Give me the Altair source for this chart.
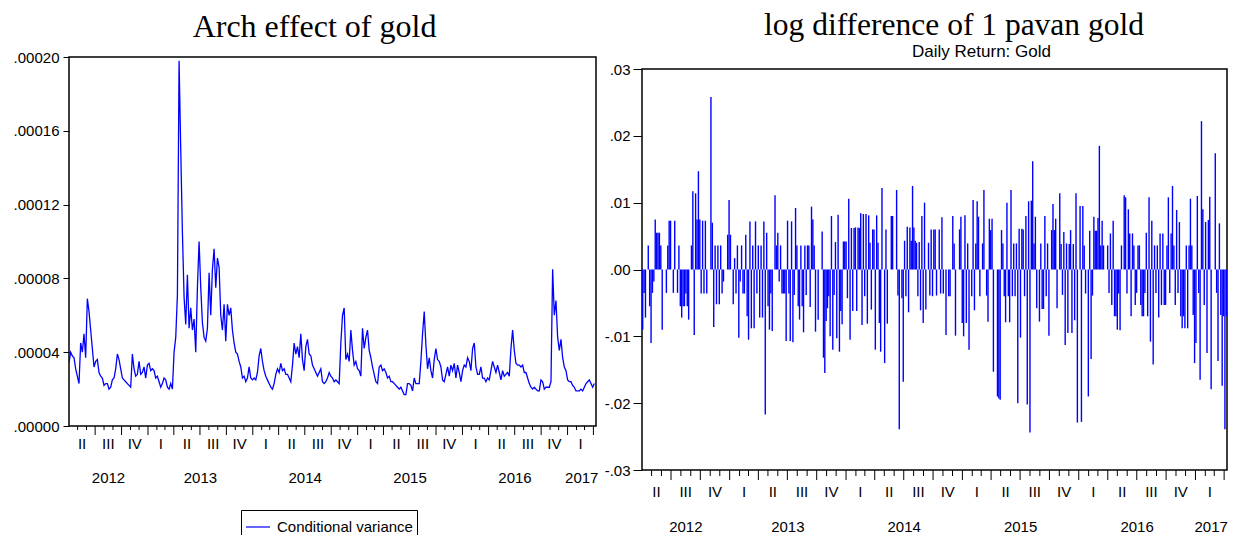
import altair as alt
import pandas as pd

# ---------------- data ----------------
START = "2012-04-01"
END = "2017-04-10"

# Conditional variance (units of 1e-5), evenly spaced through the sample
cond_var_part1 = [
    3.4, 4.0, 3.8, 3.7, 3.1, 2.7, 2.3, 4.5, 4.0, 5.0,
    3.7, 6.9, 6.2, 5.2, 4.2, 3.2, 3.5, 3.6, 2.9, 2.7,
    2.6, 2.2, 2.3, 2.3, 2.0, 2.1, 2.5, 2.6, 3.1, 3.9,
    3.6, 3.1, 2.6, 2.5, 2.4, 2.3, 2.2, 2.1, 3.9, 3.1,
    2.7, 2.8, 3.5, 2.8, 2.9, 3.2, 2.6, 3.3, 3.4, 3.0,
    3.1, 3.0, 2.6, 2.7, 2.4, 2.1, 2.3, 2.6, 2.5, 2.1,
    2.0, 2.3, 2.0, 4.0, 4.8, 7.1, 19.8, 15.0, 10.5, 7.0,
    5.5, 8.2, 5.3, 6.4, 5.2, 5.8, 4.0, 7.5, 10.0, 7.5,
    5.6, 4.8, 4.6, 5.3, 8.3, 6.0, 8.5, 9.6, 7.5, 9.1,
    8.6, 6.0, 5.2, 6.6, 4.6, 6.6, 6.0, 6.4, 5.2, 4.5,
    4.0, 3.9, 3.5, 3.2, 2.6, 2.7, 2.4, 2.6, 3.2, 2.6,
    2.5, 2.6, 2.5, 2.9, 3.8, 4.2, 3.5, 3.0, 2.7, 2.5,
    2.3, 2.1, 2.0, 2.3, 2.8, 3.1, 2.9, 3.4, 3.0, 3.1,
    2.8, 2.8, 2.6, 2.4, 3.3, 4.5, 3.9, 4.3, 3.7, 5.0,
    3.6, 3.0, 4.3, 4.7, 3.9, 3.8, 3.3, 3.1, 2.9, 2.7,
    2.9, 3.1,
]
cond_var_part2 = [
    2.4, 2.3, 2.4, 2.6, 2.9, 2.7, 2.6, 2.4, 2.5, 2.4,
    2.3, 4.5, 6.0, 6.4, 3.6, 3.9, 3.5, 5.2, 4.1, 3.3,
    3.5, 3.1, 3.0, 2.7, 5.3, 4.2, 4.8, 5.2, 4.1, 3.7,
    3.2, 2.8, 2.4, 2.3, 3.2, 3.3, 3.0, 3.1, 2.9, 2.6,
    2.7, 2.4, 2.4, 2.3, 2.2, 2.1, 2.0, 2.1, 1.9, 1.7,
    1.7, 2.3, 2.3, 2.2, 1.9, 2.6, 2.3, 2.3, 2.3, 3.5,
    5.0, 6.2, 4.4, 3.1, 3.7, 3.0, 2.6, 3.6, 4.2, 3.6,
    3.5, 3.2, 2.5, 2.4, 2.8, 3.2, 2.7, 3.3, 3.0, 3.4,
    2.6, 3.3, 2.9, 2.4, 3.0, 3.3, 3.2, 3.7, 3.5, 3.0,
    4.2, 4.5, 3.2, 2.8, 2.8, 3.2, 2.6, 2.6, 2.4, 2.6,
    2.5, 3.0, 3.5, 3.2, 2.9, 3.3, 2.9, 2.5, 3.0, 2.7,
    2.8, 2.9, 2.7, 4.2, 5.2, 4.1, 3.4, 3.3, 3.3, 3.2,
    3.3, 2.9, 2.9, 2.6, 2.3, 2.1, 2.0, 2.1, 2.0, 1.9,
    1.9, 2.5, 2.4, 2.0, 2.1, 2.1, 2.1, 2.4, 8.5, 6.0,
    6.8, 4.8, 4.1, 4.7, 3.7, 3.2, 3.0, 2.5, 2.4, 2.4,
    2.2, 2.1, 1.9, 1.9, 1.9, 2.0, 1.9, 2.1, 2.3, 2.4,
    2.5, 2.3, 2.1, 2.3,
]

# Daily return (units of 0.001), four consecutive stretches of the sample
ret_seg1 = [
    -9, -3.5, -7.2, 0, 3.6, -5.5, -11, -3.5, -1.8, 7.5, 5.5, 5.5, 5.5, 3.6, -9,
    0, 0, -3.5, 3.6, 7.3, 7.3, 0, -3.5, 7.3, 0, -3.5, 3.6, -5.5, -7.2, -5.5,
    -5.5, -3.6, -5.5, -7.5, 0, 3.6, 11.7, -9.8, 11.4, 7.5, 14.7, 7.5, -3.6, 7.3,
    -3.6, 7.3, -3.6, 0, 0, 25.8, 7, -8.6, 3.6, -5.2, 3.6, -5.2, 3.6, -3.6, -1.8,
    0, 0, 5.2, 10.4, 5.2, 0, -5.2, 1.7, -3.6, 3.6, -10.2, -1.8, 3.6, -3.6, -3.6,
    5.2, -7, -10.5, 7.2, -8.8, 3.6, -8.8, 7.2, -3.6, 3.6, -7.2, 3.6, -7.2, 7.2,
    -21.7, 5.5, -5.5, -9, -3.6, -9.2, 0, 11.1, 3.6, 5.5, -1.8, 3.6, -3.6, -3.6,
    -3.6, -10.7, 7.3,
]
ret_seg2 = [
    -3.6, -10.7, 7.2, -10.9, -3.8, 9.2, 3.6, -5.5, -7.5, 3.6, -5.5, -9.4, 3.6,
    -3.8, 3.6, 3.6, -5.6, 9.4, 7.5, 3.6, -9.3, 0, -7.5, 0, 0, 5.7, -13.2, -15.5,
    -7.7, -5.8, -4, -10, 8, -12, -3.8, 4.1, -10.3, 8.2, -12.3, -6.2, -8.2, 4.2,
    4.2, 4.2, -4.3, 10.6, -10.5, 6.2, -6.2, 6.2, 6.3, -6.2, 6.3, 6.2, 8.4, -8.3,
    8.3, -4, 8.3, -8.1, 8.1, 4, -6, 6, 6, -12, 8.1, 4, -8, -12.3, 12.2, 0, -14,
    6, -8.1, 0, 0, 8, 8, 0, 0, 11.9, -3.9, -23.9, 0, -4.3, -16.8, 4.3, -4, 6.4,
    -6.4, 6.3, 4.3, 12.5, 6.3, 4.3, 4, -4, 4.1, -6.1, 8, -8, 10, -6, 0, 4, -3.9,
    6, -4, 6,
]
ret_seg3 = [
    6, -3.9, 0, 6, -3.6, 7.8, -3.6, 0, -9.8, 0, -4, -4, 0, 8, 3.9, -9.9, 0, 0,
    6, 7.9, -8, -10, 8.1, -8, 3.9, -12, 0, -4, 10.4, -6.1, 3.9, 10.2, 7.9, -4,
    0, 3.9, 11.9, 0, -3.9, -7.8, 7.6, 5.9, 7.6, -15.3, 0, 0, -19, -19.3, -19.5,
    5.9, 3.9, -4, -7.9, 10, -4, -7.9, 11.9, -4, 3.9, -4, 3.9, -20, 6.1, -10.2,
    6.1, 6, -4, 8, -20.2, 10.2, -24.4, 10.3, 16.2, 3.9, 7.9, -5.8, 0, -7.8, 3.9,
    -5.9, -5.9, 8, -4, 3.9, -9.9, 0, 5.9, 9.8, 5.9, 7.6, -5.8, 0, 11.4, 3.8,
    -3.8, 5.6, -11.3, 3.9, -9.5, 3.8, 5.9, -9.5, 3.8, -7.6, 11.4, -22.9, 0, 9.5,
]
ret_seg4 = [
    -22.8, 9.5, 3.6, -3.6, 0, -19, 5.8, -13.4, -3.9, 7.9, 5.8, 5.8, 7.7, 18.5,
    3.6, 7.3, 3.6, 0, 0, 3.6, -3.5, 5.4, -5.3, 7.3, -7, -7, -9, -3.6, -9.1, 3.6,
    0, 11.1, 10.8, -3.6, 9, 5.4, -7, 5.4, 3.6, -5.3, -3.5, 3.6, 3.6, -5.3, -7,
    -7, -3.5, 5.5, -7, 10.8, -10.8, 7.3, -14.2, 3.6, -3.5, 3.6, -7.2, 5.4, -5.3,
    5.4, -5.3, -5.3, 3.6, 10.8, -3.5, 5.4, 12.5, 3.6, -5.3, 8.9, -3.5, 7.1, -7,
    -8.8, -7, -8.8, 3.6, -8.8, 3.6, 10.6, 3.6, -6.8, -14, -11, 11, -3.5, -16.5,
    22.2, 9, -5.3, 7.1, -12.5, 7.4, 10.9, -17.9, 0, 0, 17.4, -3.5, -13.7, 6.9,
    -6.8, -17.4, -7, -23.9, -7,
]

left_ticks = [0, 0.00004, 0.00008, 0.00012, 0.00016, 0.0002]
right_ticks = [-0.03, -0.02, -0.01, 0.0, 0.01, 0.02, 0.03]
roman = {1: "I", 4: "II", 7: "III", 10: "IV"}
year_labels = [2012, 2013, 2014, 2015, 2016, 2017]
subtitle_text = ["Daily Return: Gold"]

# ---------------- build tables ----------------
start = pd.Timestamp(START)
end = pd.Timestamp(END)
span = end - start


def ms(t):
    return int(pd.Timestamp(t).value // 10**6)


cv = cond_var_part1 + cond_var_part2
n = len(cv)
left_df = pd.DataFrame({
    "date": [ms(start + span * i / n) for i in range(n)],
    "value": [v * 1e-5 for v in cv],
    "series": ["Conditional variance"] * n,
})

rows = []
segs = [ret_seg1, ret_seg2, ret_seg3, ret_seg4]
for k, seg in enumerate(segs):
    a = start + span * k / len(segs)
    w = span / len(segs)
    for j, v in enumerate(seg):
        rows.append({"date": ms(a + w * ((j + 0.5) / len(seg))), "ret": v / 1000.0, "zero": 0.0})
right_df = pd.DataFrame(rows)

months = pd.date_range("2012-05-01", "2017-04-01", freq="MS")
minor_df = pd.DataFrame({"date": [ms(m) for m in months if m.month not in roman]})
major_df = pd.DataFrame({"date": [ms(m) for m in months if m.month in roman]})

qrows = []
for qs in pd.date_range("2012-04-01", "2017-01-01", freq="MS"):
    if qs.month in roman:
        nxt = qs + pd.DateOffset(months=3)
        qrows.append({"date": ms(qs + (nxt - qs) / 2), "label": roman[qs.month]})
quarter_df = pd.DataFrame(qrows)

yrows = []
for y in year_labels:
    a = max(pd.Timestamp(f"{y}-01-01"), start)
    b = min(pd.Timestamp(f"{y + 1}-01-01"), end)
    yrows.append({"date": ms(a + (b - a) / 2), "label": str(y)})
year_df = pd.DataFrame(yrows)

SANS = "Liberation Sans"
SERIF = "Liberation Serif"
BLUE = "#0000FF"


def xscale():
    return alt.Scale(type="utc", domain=[ms(start), ms(end)], nice=False)


def x_enc():
    return alt.X("date:T", scale=xscale(), axis=None)


def x_axis_layers(H, minor_len, major_len, q_off, y_off):
    minor = alt.Chart(minor_df).mark_rule(color="black", strokeWidth=1).encode(
        x=x_enc(), y=alt.value(H), y2=alt.value(H + minor_len))
    major = alt.Chart(major_df).mark_rule(color="black", strokeWidth=1).encode(
        x=x_enc(), y=alt.value(H), y2=alt.value(H + major_len))
    qtxt = alt.Chart(quarter_df).mark_text(font=SANS, fontSize=15, color="black",
                                           baseline="middle", align="center").encode(
        x=x_enc(), y=alt.value(H + q_off), text="label:N")
    ytxt = alt.Chart(year_df).mark_text(font=SANS, fontSize=15, color="black",
                                        baseline="middle", align="center").encode(
        x=x_enc(), y=alt.value(H + y_off), text="label:N")
    return [minor, major, qtxt, ytxt]


# ---------------- left panel ----------------
HL, WL = 369, 527
line = alt.Chart(left_df).mark_line(strokeWidth=1.3, clip=True).encode(
    x=x_enc(),
    y=alt.Y("value:Q",
            scale=alt.Scale(domain=[0, 0.0002], nice=False, zero=False),
            axis=alt.Axis(values=left_ticks, title=None, grid=False, domain=False,
                          labelExpr="replace(format(datum.value, '.5f'), '0.', '.')",
                          tickSize=6, tickColor="black", labelPadding=4,
                          labelFont=SANS, labelFontSize=15, labelColor="black")),
    color=alt.Color("series:N",
                    scale=alt.Scale(domain=["Conditional variance"], range=[BLUE]),
                    legend=alt.Legend(title=None, orient="none", legendX=172, legendY=453,
                                      symbolType="stroke", symbolSize=576,
                                      symbolStrokeWidth=1.2, strokeColor="black",
                                      fillColor="white", padding=4, labelOffset=6,
                                      labelFont=SANS, labelFontSize=15, labelColor="black")),
)
left = alt.layer(line, *x_axis_layers(HL, 4, 9, 18, 52)).properties(
    width=WL, height=HL,
    title=alt.TitleParams("Arch effect of gold", font=SERIF, fontSize=32,
                          fontWeight="normal", color="black", anchor="middle",
                          frame="group", dx=-18, offset=6),
)

# ---------------- right panel ----------------
HR, WR = 401, 585
SP = 2
bars = alt.Chart(right_df).mark_rule(color=BLUE, strokeWidth=1.4).encode(
    x=x_enc(),
    y=alt.Y("ret:Q",
            scale=alt.Scale(domain=[-0.03, 0.03], nice=False, zero=False),
            axis=alt.Axis(values=right_ticks, title=None, grid=False, domain=False,
                          labelExpr="(datum.value < -0.000001 ? '-' : '') + replace(format(abs(datum.value), '.2f'), '0.', '.')",
                          tickSize=9, tickColor="black", labelPadding=3,
                          labelFont=SANS, labelFontSize=15, labelColor="black")),
    y2="zero:Q",
)
right = alt.layer(bars, *x_axis_layers(HR, 6, 10, 22, 57)).properties(width=WR, height=HR)

subtitle = alt.Chart(pd.DataFrame({"t": subtitle_text})).mark_text(
    font=SANS, fontSize=17, color="black", align="center", baseline="alphabetic"
).encode(text="t:N", x=alt.value(WR / 2 + 47), y=alt.value(0)).properties(
    width=WR, height=SP, view=alt.ViewBackground(stroke="transparent"))

right_wrapped = alt.vconcat(subtitle, right, spacing=0).properties(
    title=alt.TitleParams("log difference of 1 pavan gold", font=SERIF, fontSize=31.5,
                          fontWeight="normal", color="black", anchor="middle",
                          frame="bounds", dx=38, offset=0.5),
)

chart = alt.hconcat(left, right_wrapped, spacing=3).resolve_scale(
    x="independent", y="independent", color="independent"
).properties(
    padding={"left": 4, "top": 2, "right": 0, "bottom": 0}
).configure_view(stroke="black", strokeWidth=1.5)

chart.save("out.html", embed_options={"renderer": "svg", "actions": False})
